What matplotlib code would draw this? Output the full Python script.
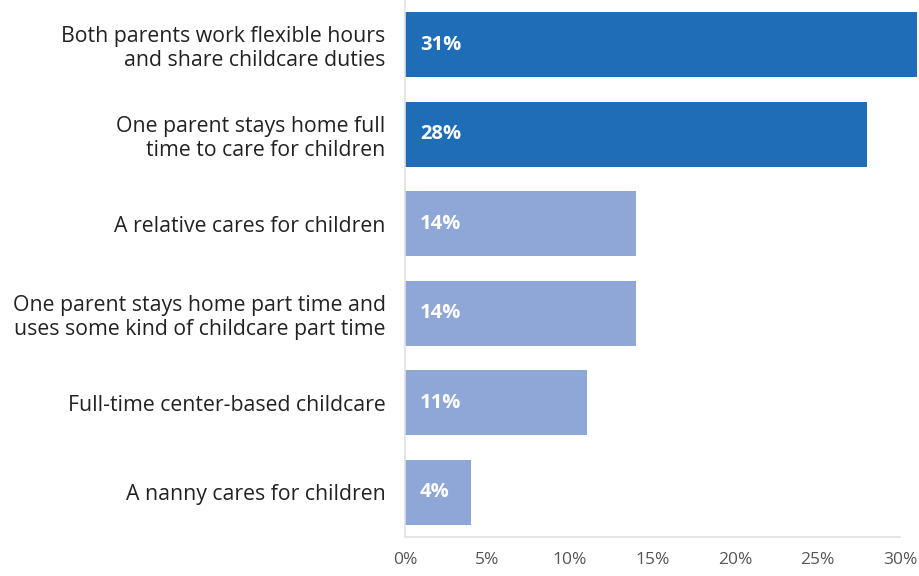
import matplotlib
matplotlib.use("Agg")
import matplotlib.pyplot as plt

categories = [
    "Both parents work flexible hours\nand share childcare duties",
    "One parent stays home full\ntime to care for children",
    "A relative cares for children",
    "One parent stays home part time and\nuses some kind of childcare part time",
    "Full-time center-based childcare",
    "A nanny cares for children",
]
values = [31, 28, 14, 14, 11, 4]
highlight = [True, True, False, False, False, False]
x_ticks = [0, 5, 10, 15, 20, 25, 30]

DARK = "#1f6db6"
LIGHT = "#8fa7d6"

plt.rcParams['font.family'] = ['Open Sans', 'DejaVu Sans']

fig = plt.figure(figsize=(9.19, 5.76), dpi=100)
ax = fig.add_axes([405 / 919, 39 / 576, 495 / 919, 537 / 576])

ypos = list(range(len(values)))
colors = [DARK if h else LIGHT for h in highlight]
ax.barh(ypos, values, height=0.73, color=colors, clip_on=False, zorder=2)

for y, v in zip(ypos, values):
    ax.text(0.9, y, f"{v}%", color="white", fontsize=14.5, fontweight="bold",
            va="center", ha="left", zorder=3)

ax.set_xlim(0, 30)
ax.set_ylim(len(values) - 0.5, -0.5)
ax.set_yticks(ypos)
ax.set_yticklabels(categories, fontsize=15.3, color="#222222", linespacing=1.2)
ax.set_xticks(x_ticks)
ax.set_xticklabels([f"{t}%" for t in x_ticks], fontsize=12.5, color="#555555")

ax.tick_params(axis="y", length=0, pad=14)
ax.tick_params(axis="x", length=0, pad=11)
for s in ["top", "right"]:
    ax.spines[s].set_visible(False)
for s in ["left", "bottom"]:
    ax.spines[s].set_color("#e0e0e0")
    ax.spines[s].set_linewidth(1.2)

fig.savefig("out.png", dpi=100)
